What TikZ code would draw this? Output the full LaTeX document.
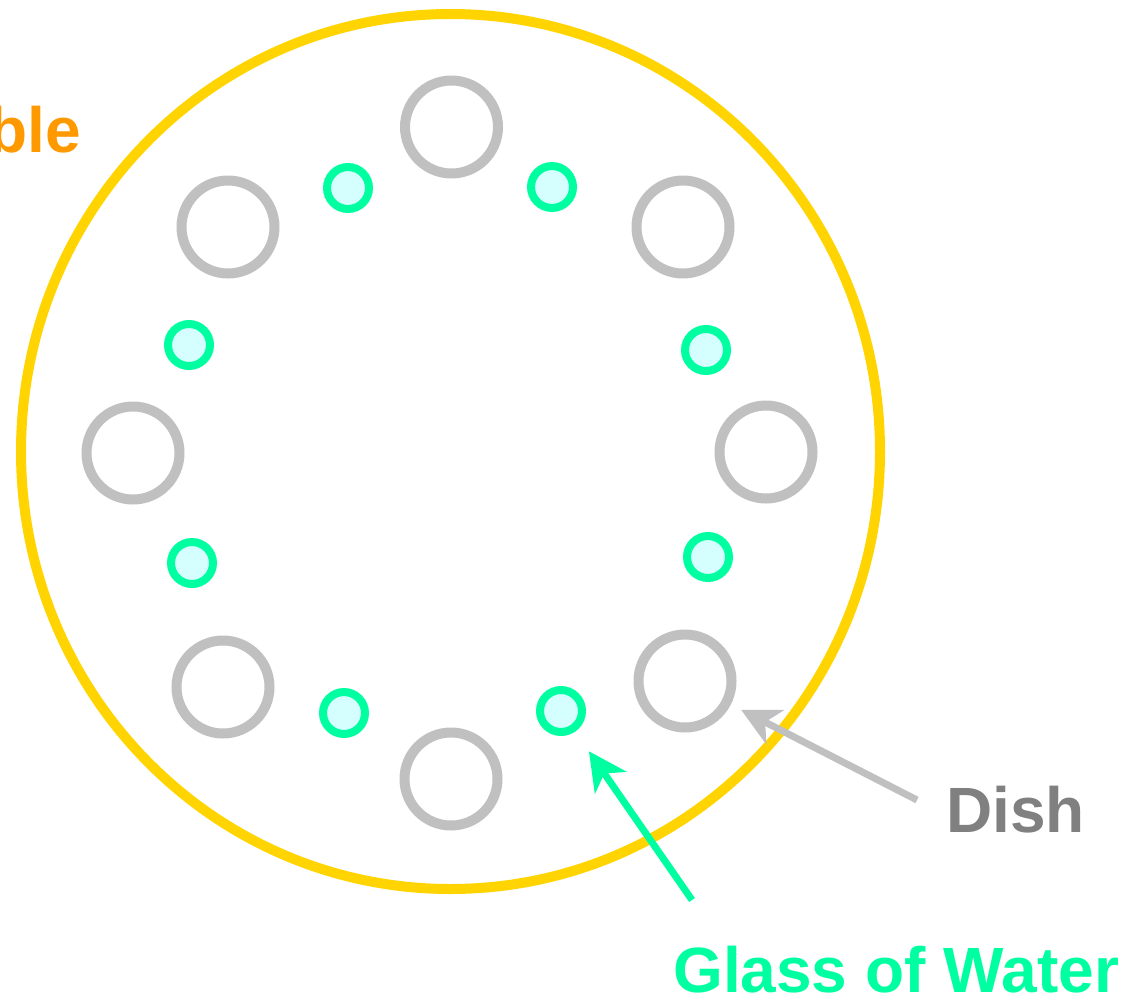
\documentclass[tikz,border=0pt]{standalone}
\usepackage{fontspec}
\setmainfont{Liberation Sans}
\usetikzlibrary{arrows.meta}

\definecolor{tablegold}{RGB}{255,212,0}
\definecolor{dishgray}{RGB}{192,192,192}
\definecolor{glassgreen}{RGB}{0,255,160}
\definecolor{waterfill}{RGB}{213,255,255}
\definecolor{labelorange}{RGB}{255,153,0}
\definecolor{labelgray}{RGB}{128,128,128}

\begin{document}
\begin{tikzpicture}[x=1pt,y=-1pt]
  \tikzstyle{dish}=[draw=dishgray,line width=10pt,circle,inner sep=0pt,minimum size=93pt,fill=white]
  \tikzstyle{glass}=[draw=glassgreen,line width=8pt,circle,inner sep=0pt,minimum size=42pt,fill=waterfill]
  \tikzstyle{lbl}=[inner sep=0pt,font=\bfseries\fontsize{64}{77}\selectfont]
  \tikzstyle{pointer}=[line width=7pt,-{Stealth[length=38pt,width=38pt,inset=11pt]}]
  \useasboundingbox (0,0) rectangle (1129,999);
  % table top
  \coordinate (tablectr) at (450.5,451.5);
  \draw[tablegold,line width=10pt] (tablectr) ellipse [x radius=429.5,y radius=437.5];
  % dishes, clockwise from the top
  \node[dish] (dish1) at (451.5,127) {};
  \node[dish] (dish2) at (683,227) {};
  \node[dish] (dish3) at (766,452) {};
  \node[dish] (dish4) at (685,681) {};
  \node[dish] (dish5) at (451,779) {};
  \node[dish] (dish6) at (223,687) {};
  \node[dish] (dish7) at (133,453) {};
  \node[dish] (dish8) at (228,227) {};
  % glasses
  \node[glass] (glass1) at (552,187) {};
  \node[glass] (glass2) at (706,350) {};
  \node[glass] (glass3) at (708,557) {};
  \node[glass] (glass4) at (561,711) {};
  \node[glass] (glass5) at (344,713) {};
  \node[glass] (glass6) at (192,563) {};
  \node[glass] (glass7) at (189,345) {};
  \node[glass] (glass8) at (348,188) {};
  % labels
  \node[lbl,text=labelorange,anchor=base east] (tablelbl) at (81,152) {Table};
  \node[lbl,text=labelgray,anchor=base west] (dishlbl) at (946,832) {Dish};
  \node[lbl,text=glassgreen,anchor=base west] (glasslbl) at (673,992) {Glass of Water};
  % pointers
  \coordinate (dishtail) at (917,800);
  \coordinate (glasstail) at (692,900);
  \draw[pointer,dishgray,shorten >=11.5pt] (dishtail) -- (dish4);
  \draw[pointer,glassgreen,shorten >=24pt] (glasstail) -- (glass4);
\end{tikzpicture}
\end{document}
